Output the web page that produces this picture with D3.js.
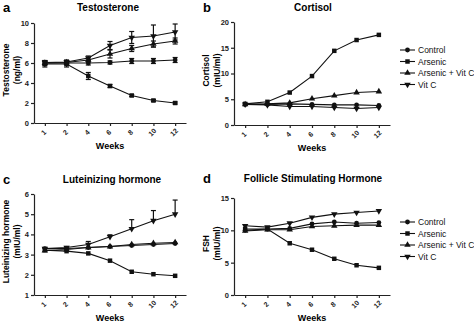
<!DOCTYPE html>
<html>
<head>
<meta charset="utf-8">
<script src="https://cdn.jsdelivr.net/npm/d3@7"></script>
<style>
  body { margin: 0; background: #fff; }
  svg { font-family: "Liberation Sans", Arial, sans-serif; }
  .axis path, .axis line { stroke: #222; stroke-width: 1.2; }
  .axis text { font-size: 7px; font-weight: bold; fill: #222; }
</style>
</head>
<body>
<div id="chart"></div>
<script>
// Data
var weeks = ["1", "2", "4", "6", "8", "10", "12"];
var seriesNames = ["Control", "Arsenic", "Arsenic + Vit C", "Vit C"];

var testoControl = [6.0, 6.0, 6.0, 6.05, 6.2, 6.2, 6.3];
var testoArsenic = [5.9, 5.9, 4.7, 3.7, 2.75, 2.25, 2.0];
var testoArsVitC = [6.0, 6.05, 6.3, 6.9, 7.45, 7.9, 8.2];
var testoVitC    = [6.05, 6.1, 6.5, 7.75, 8.55, 8.7, 9.1];
var testoErrControl = [0.2, 0.2, 0.2, 0.15, 0.25, 0.25, 0.25];
var testoErrArsenic = [0.3, 0.3, 0.35, 0.15, 0.1, 0.1, 0.1];
var testoErrArsVitC = [0.2, 0.2, 0.2, 0.4, 0.3, 0.3, 0.3];
var testoErrVitC    = [0.2, 0.2, 0.2, 0.4, 0.6, 1.1, 0.8];

var cortControl = [4.0, 4.0, 4.1, 4.0, 3.9, 3.9, 3.8];
var cortArsenic = [4.1, 4.5, 6.3, 9.5, 14.4, 16.5, 17.5];
var cortArsVitC = [4.0, 4.1, 4.3, 5.1, 5.7, 6.3, 6.5];
var cortVitC    = [4.0, 3.9, 3.6, 3.6, 3.4, 3.2, 3.4];

var lhControl = [3.3, 3.3, 3.35, 3.4, 3.45, 3.5, 3.55];
var lhArsenic = [3.22, 3.17, 3.06, 2.7, 2.15, 2.03, 1.95];
var lhArsVitC = [3.2, 3.25, 3.35, 3.4, 3.5, 3.56, 3.6];
var lhVitC    = [3.3, 3.35, 3.5, 3.88, 4.28, 4.68, 5.0];
var lhErrVitC = [0.05, 0.05, 0.15, 0.1, 0.45, 0.5, 0.7];

var fshControl = [10.0, 10.2, 10.3, 11.0, 11.3, 11.1, 11.2];
var fshArsenic = [10.2, 10.2, 8.0, 7.0, 5.6, 4.6, 4.2];
var fshArsVitC = [9.9, 10.1, 10.1, 10.6, 10.7, 10.8, 10.8];
var fshVitC    = [10.7, 10.5, 11.1, 12.0, 12.5, 12.75, 13.0];

var testoTicks = [0, 2, 4, 6, 8, 10];
var cortTicks = [0, 5, 10, 15, 20];
var lhTicks = [1, 2, 3, 4, 5, 6];
var fshTicks = [0, 5, 10, 15];

// Layout
var width = 474, height = 322;
var symbols = [d3.symbolCircle, d3.symbolSquare, d3.symbolTriangle, d3.symbolTriangle];
var symbolSizes = [18, 20, 18, 18];

var svg = d3.select("#chart").append("svg")
    .attr("width", width)
    .attr("height", height);

var panels = [
    { letter: "a", title: "Testosterone", ylab: ["Testosterone", "(ng/ml)"],
      left: 34, right: 186, top: 23, bottom: 123, domain: [0, 10], ticks: testoTicks,
      labX: 3, titleX: 108, titleY: 10,
      series: [testoControl, testoArsenic, testoArsVitC, testoVitC],
      errs: [testoErrControl, testoErrArsenic, testoErrArsVitC, testoErrVitC], errBoth: true,
      legend: false },
    { letter: "b", title: "Cortisol", ylab: ["Cortisol", "(mIU/ml)"],
      left: 234, right: 390, top: 22, bottom: 125, domain: [0, 20], ticks: cortTicks,
      labX: 203, titleX: 313, titleY: 10,
      series: [cortControl, cortArsenic, cortArsVitC, cortVitC],
      errs: null, legend: true, legendY: 50 },
    { letter: "c", title: "Luteinizing hormone", ylab: ["Luteinizing hormone", "(mIU/ml)"],
      left: 34, right: 186, top: 194, bottom: 295, domain: [1, 6], ticks: lhTicks,
      labX: 3, titleX: 112, titleY: 182,
      series: [lhControl, lhArsenic, lhArsVitC, lhVitC],
      errs: [null, null, null, lhErrVitC], errBoth: false,
      legend: false },
    { letter: "d", title: "Follicle Stimulating Hormone", ylab: ["FSH", "(mIU/ml)"],
      left: 234, right: 390, top: 198, bottom: 295, domain: [0, 15], ticks: fshTicks,
      labX: 203, titleX: 313, titleY: 181,
      series: [fshControl, fshArsenic, fshArsVitC, fshVitC],
      errs: null, legend: true, legendY: 222 }
];

panels.forEach(drawPanel);

function markerPath(i, size) {
    return d3.symbol().type(symbols[i]).size(size)();
}

function drawPanel(p) {
    var g = svg.append("g");

    var x = d3.scalePoint().domain(weeks).range([p.left, p.right]).padding(0.5);
    var y = d3.scaleLinear().domain(p.domain).range([p.bottom, p.top]);

    // Axes
    var xAxis = g.append("g").attr("class", "axis")
        .attr("transform", "translate(0," + p.bottom + ")")
        .call(d3.axisBottom(x).tickSize(3).tickSizeOuter(0));
    xAxis.selectAll("text")
        .attr("text-anchor", "middle")
        .attr("dy", null)
        .attr("y", null)
        .attr("transform", "translate(0,11) rotate(-45)");

    var yAxis = g.append("g").attr("class", "axis")
        .attr("transform", "translate(" + p.left + ",0)")
        .call(d3.axisLeft(y).tickValues(p.ticks).tickFormat(d3.format("d"))
            .tickSize(3).tickSizeOuter(0).tickPadding(2));
    yAxis.selectAll("text").style("font-size", "7.5px");

    // Titles and labels
    g.append("text").attr("x", p.labX).attr("y", p.titleY + 2)
        .style("font-size", "13px").style("font-weight", "bold").text(p.letter);
    g.append("text").attr("x", p.titleX).attr("y", p.titleY + 1)
        .attr("text-anchor", "middle")
        .style("font-size", "10px").style("font-weight", "bold").text(p.title);

    g.append("text")
        .attr("x", (p.left + p.right) / 2).attr("y", p.bottom + 26)
        .attr("text-anchor", "middle")
        .style("font-size", "9px").style("font-weight", "bold").text("Weeks");

    var midY = (p.top + p.bottom) / 2 - 3;
    p.ylab.forEach(function(t, k) {
        g.append("text")
            .attr("transform", "translate(" + (p.labX + 6 + k * 10.5) + "," + midY + ") rotate(-90)")
            .attr("text-anchor", "middle")
            .style("font-size", "8.5px").style("font-weight", "bold").text(t);
    });

    // Error bars
    if (p.errs) {
        p.errs.forEach(function(err, si) {
            if (!err) return;
            var vals = p.series[si];
            var eg = g.append("g").attr("stroke", "#111").attr("stroke-width", 1.2);
            weeks.forEach(function(w, i) {
                var cx = x(w);
                var hi = y(vals[i] + err[i]);
                var lo = p.errBoth ? y(vals[i] - err[i]) : y(vals[i]);
                eg.append("line").attr("x1", cx).attr("x2", cx).attr("y1", hi).attr("y2", lo);
                eg.append("line").attr("x1", cx - 2.5).attr("x2", cx + 2.5).attr("y1", hi).attr("y2", hi);
                if (p.errBoth) {
                    eg.append("line").attr("x1", cx - 2.5).attr("x2", cx + 2.5).attr("y1", lo).attr("y2", lo);
                }
            });
        });
    }

    // Lines and markers
    var line = d3.line()
        .x(function(d, i) { return x(weeks[i]); })
        .y(function(d) { return y(d); });

    p.series.forEach(function(vals, si) {
        g.append("path")
            .datum(vals)
            .attr("d", line)
            .attr("fill", "none")
            .attr("stroke", "#111")
            .attr("stroke-width", 1.1);

        g.selectAll(".m" + si)
            .data(vals)
            .enter()
            .append("path")
            .attr("class", "m" + si)
            .attr("d", markerPath(si, symbolSizes[si]))
            .attr("transform", function(d, i) {
                var t = "translate(" + x(weeks[i]) + "," + y(d) + ")";
                return si == 3 ? t + " rotate(180)" : t;
            })
            .attr("fill", "#111");
    });

    // Legend
    if (p.legend) {
        seriesNames.forEach(function(name, i) {
            var ly = p.legendY + i * 11.5;
            var lg = g.append("g");
            lg.append("line").attr("x1", 400).attr("x2", 415).attr("y1", ly).attr("y2", ly)
                .attr("stroke", "#111").attr("stroke-width", 1.1);
            lg.append("path").attr("d", markerPath(i, symbolSizes[i]))
                .attr("transform", "translate(407.5," + ly + ")" + (i == 3 ? " rotate(180)" : ""))
                .attr("fill", "#111");
            lg.append("text").attr("x", 418).attr("y", ly + 3)
                .style("font-size", "8.5px").attr("fill", "#111").text(name);
        });
    }
}
</script>
</body>
</html>
